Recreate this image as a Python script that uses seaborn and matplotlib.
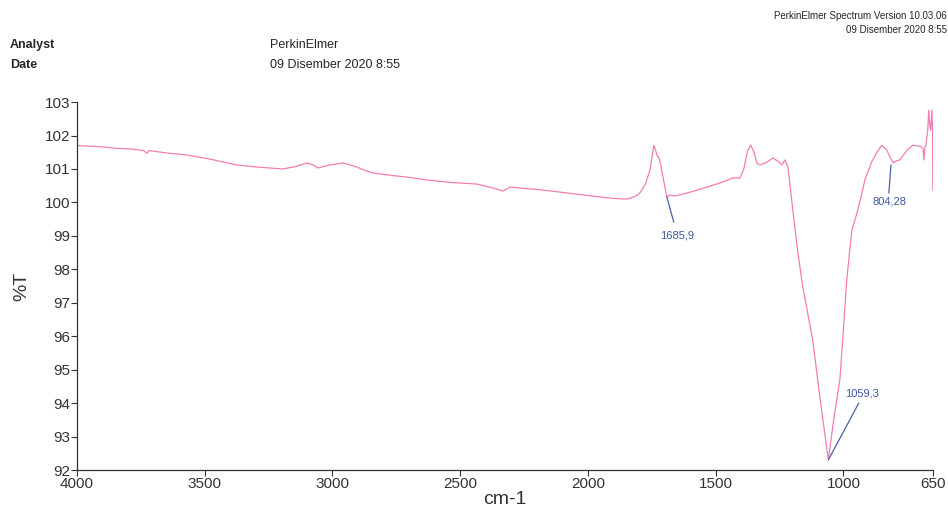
import numpy as np
import pandas as pd
import matplotlib
matplotlib.use("Agg")
import matplotlib.pyplot as plt
import seaborn as sns

# =========================
# Datos del espectro FTIR
# =========================
wavenumber = [4000, 3950, 3898, 3850, 3790, 3740, 3726, 3718, 3650, 3570,
              3470, 3374, 3300, 3194, 3140, 3100, 3075, 3057, 3010, 2959,
              2920, 2880, 2842, 2760, 2700, 2630, 2540, 2435, 2380, 2333,
              2305, 2250, 2176, 2100, 1981, 1900, 1848, 1815, 1797, 1775,
              1757, 1742, 1735, 1730, 1720, 1691, 1680, 1660, 1613, 1550,
              1484, 1433, 1405, 1390, 1375, 1362, 1350, 1339, 1327, 1300,
              1276, 1250, 1241, 1229, 1217, 1198, 1180, 1159, 1140, 1120,
              1090, 1059, 1040, 1014, 1000, 987, 967, 947, 930, 916,
              890, 869, 850, 830, 806, 790, 779, 752, 728, 700,
              693, 688, 685, 681, 677, 670, 666, 662, 658, 654,
              651, 650]
transmittance = [101.70, 101.68, 101.66, 101.62, 101.60, 101.55, 101.47, 101.55, 101.48, 101.42,
                 101.28, 101.12, 101.06, 101.00, 101.08, 101.18, 101.12, 101.03, 101.12, 101.18,
                 101.10, 100.98, 100.88, 100.80, 100.75, 100.67, 100.60, 100.55, 100.45, 100.34,
                 100.46, 100.42, 100.37, 100.30, 100.19, 100.12, 100.10, 100.18, 100.28, 100.55,
                 100.97, 101.71, 101.55, 101.42, 101.30, 100.16, 100.22, 100.19, 100.28, 100.42,
                 100.58, 100.73, 100.73, 101.00, 101.55, 101.71, 101.50, 101.18, 101.12, 101.20,
                 101.33, 101.20, 101.12, 101.27, 101.06, 99.77, 98.60, 97.47, 96.70, 95.88,
                 94.05, 92.30, 93.40, 94.69, 96.20, 97.68, 99.17, 99.68, 100.20, 100.67,
                 101.20, 101.50, 101.71, 101.56, 101.18, 101.25, 101.27, 101.56, 101.71, 101.68,
                 101.65, 101.60, 101.27, 101.65, 101.71, 102.16, 102.76, 102.30, 102.16, 102.76,
                 102.20, 100.37]

# Picos etiquetados: (etiqueta, x pico, y pico, x texto, y texto)
peak_labels = ["1685,9", "1059,3", "804,28"]
peak_x = [1691, 1059, 814]
peak_y = [100.16, 92.30, 101.12]
label_x = [1652, 928, 818]
label_y = [99.02, 94.30, 100.04]
line_end_x = [1664, 940, 822]
line_end_y = [99.41, 94.00, 100.28]

x_ticks = [4000, 3500, 3000, 2500, 2000, 1500, 1000, 650]
y_ticks = list(range(92, 104))

df = pd.DataFrame({"cm-1": wavenumber, "%T": transmittance})

# =========================
# Figura
# =========================
sns.set_style("ticks")
plt.rcParams["font.family"] = ["Liberation Sans", "DejaVu Sans"]

fig = plt.figure(figsize=(9.48, 5.13), dpi=100)
ax = fig.add_axes([0.0812, 0.0838, 0.9028, 0.7172])

sns.lineplot(data=df, x="cm-1", y="%T", ax=ax, color="#f47cb2",
             linewidth=0.9, sort=False, estimator=None)

ax.set_xlim(4000, 650)
ax.set_ylim(92, 103)
ax.set_xticks(x_ticks)
ax.set_yticks(y_ticks)
ax.tick_params(axis="both", labelsize=11, colors="#333333", length=4,
               width=0.8, pad=1)
sns.despine(ax=ax)
for s in ["left", "bottom"]:
    ax.spines[s].set_color("#333333")
    ax.spines[s].set_linewidth(0.9)

ax.set_xlabel("cm-1", fontsize=14, color="#333333", labelpad=0)
ax.set_ylabel("%T", fontsize=14, color="#333333", labelpad=10)

# Etiquetas de picos
for lab, px, py, lx, ly, ex, ey in zip(peak_labels, peak_x, peak_y,
                                       label_x, label_y, line_end_x, line_end_y):
    ax.plot([px, ex], [py, ey], color="#4a5eaa", linewidth=0.9)
    ax.text(lx, ly, lab, fontsize=8, color="#3d56a6", ha="center", va="center")

# Encabezado
narrow = ["Liberation Sans Narrow", "Liberation Sans", "DejaVu Sans"]
fig.text(10 / 948, 1 - 45 / 513, "Analyst", fontsize=9, fontweight="bold",
         family=narrow, va="center")
fig.text(10 / 948, 1 - 65 / 513, "Date", fontsize=9, fontweight="bold",
         family=narrow, va="center")
fig.text(270 / 948, 1 - 45 / 513, "PerkinElmer", fontsize=9,
         family=narrow, va="center")
fig.text(270 / 948, 1 - 65 / 513, "09 Disember 2020 8:55", fontsize=9,
         family=narrow, va="center")
fig.text(947 / 948, 1 - 16 / 513, "PerkinElmer Spectrum Version 10.03.06",
         fontsize=7, family=narrow, ha="right", va="center")
fig.text(947 / 948, 1 - 30 / 513, "09 Disember 2020 8:55",
         fontsize=7, family=narrow, ha="right", va="center")

fig.savefig("out.png", dpi=100)
